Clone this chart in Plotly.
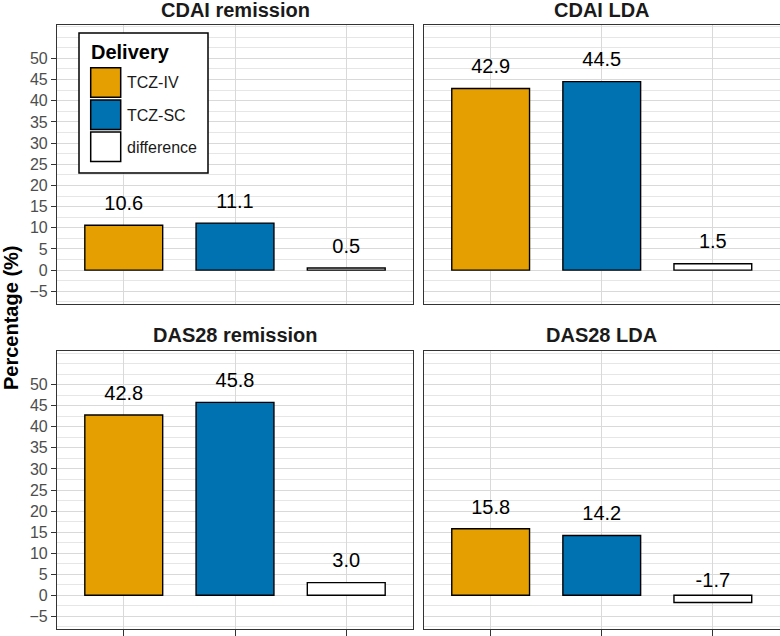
import plotly.graph_objects as go

# ---- data ----
panels = ["CDAI remission", "CDAI LDA", "DAS28 remission", "DAS28 LDA"]
groups = ["TCZ-IV", "TCZ-SC", "difference"]
tcz_iv = [10.6, 42.9, 42.8, 15.8]
tcz_sc = [11.1, 44.5, 45.8, 14.2]
difference = [0.5, 1.5, 3.0, -1.7]
y_ticks = [-5, 0, 5, 10, 15, 20, 25, 30, 35, 40, 45, 50]

colors = {"TCZ-IV": "#E69F00", "TCZ-SC": "#0072B2", "difference": "#FFFFFF"}
label_offset = 4.8

W, H = 780, 636
def px(x):
    return x / W
def py(y):
    return 1 - y / H

xdom = {"L": [px(57), px(413)], "R": [px(424), px(779.5)]}
ydom = {"T": [py(304), py(24.5)], "B": [py(629), py(351)]}
layout_pos = [("L", "T"), ("R", "T"), ("L", "B"), ("R", "B")]

fig = go.Figure()
FONT = "Liberation Sans, Arial, sans-serif"
major_grid = "#d9d9d9"
minor_grid = "#e6e6e6"
border = "#333333"

for i, name in enumerate(panels):
    vals = [tcz_iv[i], tcz_sc[i], difference[i]]
    xa = "x" if i == 0 else f"x{i+1}"
    ya = "y" if i == 0 else f"y{i+1}"
    fig.add_trace(go.Bar(
        x=groups, y=vals, width=0.7,
        marker=dict(color=[colors[g] for g in groups], line=dict(color="black", width=1.4)),
        xaxis=xa, yaxis=ya, showlegend=False, hoverinfo="x+y",
    ))
    fig.add_trace(go.Scatter(
        x=groups, y=[v + label_offset for v in vals], mode="text",
        text=[f"{v:.1f}" for v in vals], textposition="middle center",
        textfont=dict(size=20, color="black", family=FONT),
        xaxis=xa, yaxis=ya, showlegend=False, hoverinfo="skip",
    ))
    hx, vy = layout_pos[i]
    bottom = vy == "B"
    left = hx == "L"
    xkey = "xaxis" if i == 0 else f"xaxis{i+1}"
    ykey = "yaxis" if i == 0 else f"yaxis{i+1}"
    fig.update_layout({
        xkey: dict(
            domain=xdom[hx], anchor=ya, type="category",
            categoryorder="array", categoryarray=groups,
            range=[-0.6, 2.6], showticklabels=False,
            ticks="outside" if bottom else "", ticklen=6, tickcolor=border, tickwidth=1.2,
            showgrid=True, gridcolor=major_grid, gridwidth=1.2,
            showline=True, mirror=True, linecolor=border, linewidth=1.2,
            zeroline=False, fixedrange=True,
        ),
        ykey: dict(
            domain=ydom[vy], anchor=xa, range=[-8, 58],
            tickmode="array", tickvals=y_ticks,
            showticklabels=left, ticks="outside" if left else "",
            ticklen=5, tickcolor=border, tickwidth=1.2,
            tickfont=dict(size=16, color="#4d4d4d", family=FONT),
            showgrid=True, gridcolor=major_grid, gridwidth=1.2,
            minor=dict(tick0=0, dtick=2.5, showgrid=True, gridcolor=minor_grid, gridwidth=0.9, ticks=""),
            showline=True, mirror=True, linecolor=border, linewidth=1.2,
            zeroline=False, fixedrange=True,
        ),
    })

annotations = []
# panel titles
for i, name in enumerate(panels):
    hx, vy = layout_pos[i]
    cx = sum(xdom[hx]) / 2
    cy = py(10) if vy == "T" else py(334.5)
    annotations.append(dict(text=f"<b>{name}</b>", x=cx, y=cy, xref="paper", yref="paper",
                            xanchor="center", yanchor="middle", showarrow=False,
                            font=dict(size=20, color="#1a1a1a", family=FONT)))
# y-axis title
annotations.append(dict(text="<b>Percentage (%)</b>", x=px(11), y=py(318), xref="paper", yref="paper",
                        xanchor="center", yanchor="middle", showarrow=False, textangle=-90,
                        font=dict(size=20, color="black", family=FONT)))

# legend (drawn in the top-left panel)
shapes = [dict(type="rect", xref="paper", yref="paper", x0=px(79), x1=px(208), y0=py(173), y1=py(33),
               fillcolor="white", line=dict(color="black", width=1.5), layer="above")]
annotations.append(dict(text="<b>Delivery</b>", x=px(89), y=py(52.5), xref="paper", yref="paper",
                        xanchor="left", yanchor="middle", showarrow=False,
                        font=dict(size=20, color="black", family=FONT)))
sw_top = [67.7, 100, 132]
for g, t in zip(groups, sw_top):
    shapes.append(dict(type="rect", xref="paper", yref="paper", x0=px(90.7), x1=px(120.7),
                       y0=py(t + 29.5), y1=py(t), fillcolor=colors[g],
                       line=dict(color="black", width=1.5), layer="above"))
    annotations.append(dict(text=g, x=px(125), y=py(t + 15), xref="paper", yref="paper",
                            xanchor="left", yanchor="middle", showarrow=False,
                            font=dict(size=16, color="#1a1a1a", family=FONT)))

fig.update_layout(
    width=W, height=H, margin=dict(l=0, r=0, t=0, b=0),
    paper_bgcolor="white", plot_bgcolor="white",
    annotations=annotations, shapes=shapes, showlegend=False,
    font=dict(family=FONT), bargap=0.3,
)

fig.write_html("out.html", config={"displayModeBar": False},
               post_script="document.body.style.margin='0px';document.body.style.overflow='hidden';")
